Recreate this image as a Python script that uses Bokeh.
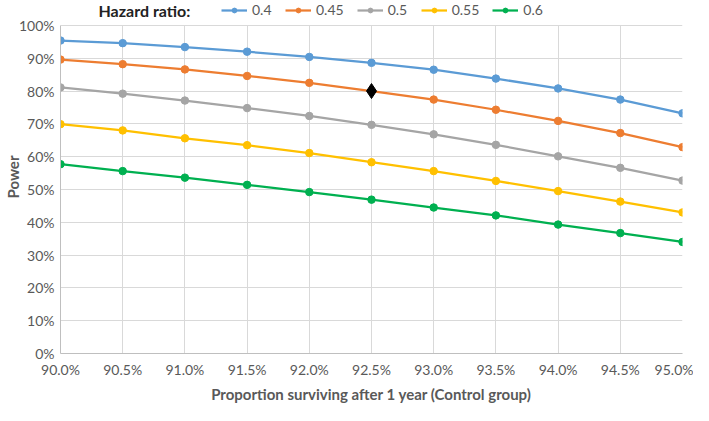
from bokeh.plotting import figure
from bokeh.models import Range1d, PrintfTickFormatter, FixedTicker, Legend, LegendItem, Label
from bokeh.embed import file_html
from bokeh.resources import INLINE

# Data
survival = [90.0, 90.5, 91.0, 91.5, 92.0, 92.5, 93.0, 93.5, 94.0, 94.5, 95.0]
hr_labels = ["0.4", "0.45", "0.5", "0.55", "0.6"]
power_04 = [95.4, 94.6, 93.4, 92.0, 90.4, 88.6, 86.5, 83.8, 80.8, 77.4, 73.2]
power_045 = [89.6, 88.2, 86.6, 84.6, 82.5, 80.0, 77.4, 74.3, 70.9, 67.2, 62.9]
power_05 = [81.1, 79.2, 77.1, 74.8, 72.4, 69.7, 66.8, 63.6, 60.1, 56.6, 52.7]
power_055 = [69.9, 68.0, 65.6, 63.5, 61.1, 58.3, 55.6, 52.6, 49.5, 46.3, 43.0]
power_06 = [57.7, 55.6, 53.6, 51.4, 49.2, 46.9, 44.5, 42.1, 39.3, 36.7, 34.0]
series = [power_04, power_045, power_05, power_055, power_06]
target_x = [92.5]
target_y = [80.0]
y_ticks = [0, 10, 20, 30, 40, 50, 60, 70, 80, 90, 100]

colors = ["#5B9BD5", "#ED7D31", "#A5A5A5", "#FFC000", "#00B050"]
FONT = "Lato"
TXT = "#595959"

# extra headroom above 100% holds the legend inside the frame
p = figure(width=693, height=405, x_range=Range1d(90, 95), y_range=Range1d(0, 107.6),
           output_backend="svg", toolbar_location=None,
           min_border_left=60, min_border_right=11, min_border_top=0, min_border_bottom=40)
p.outline_line_color = None

p.xaxis.ticker = FixedTicker(ticks=survival)
p.yaxis.ticker = FixedTicker(ticks=y_ticks)
p.yaxis.bounds = (0, 100)
p.xaxis.formatter = PrintfTickFormatter(format="%.1f%%")
p.yaxis.formatter = PrintfTickFormatter(format="%d%%")
for ax in (p.xaxis[0], p.yaxis[0]):
    ax.major_tick_line_color = None
    ax.minor_tick_line_color = None
    ax.major_tick_out = 0
    ax.major_tick_in = 0
    ax.axis_line_color = "#BFBFBF"
    ax.major_label_text_font = FONT
    ax.major_label_text_font_size = "14px"
    ax.major_label_text_color = TXT
    ax.axis_label_text_font = FONT
    ax.axis_label_text_font_size = "15px"
    ax.axis_label_text_font_style = "bold"
    ax.axis_label_text_color = TXT
p.xaxis.axis_label = "Proportion surviving after 1 year (Control group)"
p.yaxis.axis_label = "Power"
p.xaxis.major_label_standoff = 7
p.xaxis.axis_label_standoff = 4
p.yaxis.major_label_standoff = 6
p.yaxis.axis_label_standoff = -6
p.xgrid.grid_line_color = "#D9D9D9"
p.ygrid.grid_line_color = "#D9D9D9"
p.xgrid.ticker = FixedTicker(ticks=survival)
p.ygrid.ticker = FixedTicker(ticks=y_ticks)
p.xgrid.cross_bounds = (0, 100)

items = []
for lab, ys, c in zip(hr_labels, series, colors):
    l = p.line(survival, ys, line_color=c, line_width=2.25)
    s = p.scatter(survival, ys, size=7.5, fill_color=c, line_color=c)
    items.append(LegendItem(label=lab, renderers=[l, s]))

p.scatter(target_x, target_y, marker="diamond", size=15, fill_color="black", line_color="black")

legend = Legend(items=items, orientation="horizontal", location=(161, 335),
                padding=0, margin=0, spacing=13, glyph_width=26, glyph_height=12,
                label_height=12, label_standoff=5,
                label_text_font=FONT, label_text_font_size="14px", label_text_color=TXT,
                background_fill_alpha=0, border_line_color=None)
p.add_layout(legend, "center")

title = Label(x=90, y=100, x_offset=38, y_offset=15, text="Hazard ratio:",
              text_font=FONT, text_font_size="16px", text_font_style="bold",
              text_color="#222222", text_baseline="middle")
p.add_layout(title)

open("out.html", "w").write(file_html(p, INLINE))
